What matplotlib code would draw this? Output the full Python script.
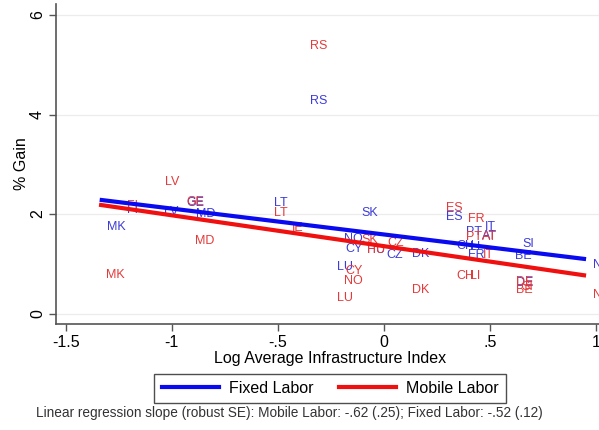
"""Scatter of % gain vs log average infrastructure index, fixed vs mobile labor."""

import numpy as np
import matplotlib
matplotlib.use("Agg")
import matplotlib.pyplot as plt
from matplotlib.lines import Line2D

plt.rcParams["font.family"] = ["Liberation Sans", "DejaVu Sans"]

# Fixed labor (blue labels)
fixed_codes = ["RS", "LT", "FI", "LV", "GE", "MD", "MK", "SK", "ES", "IT", "PT", "AT",
               "NO", "CY", "HU", "CZ", "DK", "CH", "LI", "FR", "SI", "BE", "DE", "LU", "NL"]
fixed_x = [-0.381, -0.549, -1.245, -1.069, -0.962, -0.918, -1.340, -0.137, 0.261, 0.445,
           0.355, 0.430, -0.220, -0.215, -0.110, -0.019, 0.099, 0.308, 0.374, 0.364,
           0.623, 0.585, 0.591, -0.255, 0.954]
fixed_y = [4.27, 2.22, 2.09, 2.05, 2.22, 2.01, 1.74, 2.02, 1.95, 1.73,
           1.63, 1.56, 1.50, 1.30, 1.27, 1.18, 1.20, 1.35, 1.34, 1.18,
           1.40, 1.15, 0.61, 0.93, 0.98]

# Mobile labor (red labels)
mobile_codes = ["RS", "LV", "FI", "GE", "LT", "MD", "MK", "IE", "ES", "FR", "PT", "AT",
                "SK", "CZ", "HU", "CY", "NO", "LU", "DK", "CH", "LI", "IT", "DE", "SI",
                "BE", "NL"]
mobile_x = [-0.381, -1.065, -1.245, -0.962, -0.549, -0.923, -1.343, -0.467, 0.261, 0.364,
            0.355, 0.430, -0.137, -0.016, -0.110, -0.215, -0.220, -0.255, 0.099, 0.311,
            0.374, 0.434, 0.591, 0.615, 0.591, 0.954]
mobile_y = [5.37, 2.64, 2.17, 2.24, 2.02, 1.45, 0.78, 1.72, 2.13, 1.91,
            1.53, 1.53, 1.47, 1.42, 1.27, 0.85, 0.66, 0.32, 0.48, 0.76,
            0.76, 1.18, 0.64, 0.54, 0.48, 0.38]

# regression fits (slope from the note, intercept)
fit_slope = [-0.52, -0.62]
fit_intercept = [1.590, 1.355]

BLUE_LINE, RED_LINE = "#0a0af0", "#f01010"
BLUE_TXT, RED_TXT = "#3c3cd8", "#e33a3a"


def main():
    fig = plt.figure(figsize=(5.99, 4.30), dpi=100)
    ax = fig.add_axes([0.0935, 0.2465, 0.9065, 0.744])

    for codes, xs, ys, col in [(fixed_codes, fixed_x, fixed_y, BLUE_TXT),
                               (mobile_codes, mobile_x, mobile_y, RED_TXT)]:
        for c, x, y in zip(codes, xs, ys):
            ax.annotate(c, (x, y), xytext=(7, 0), textcoords="offset pixels",
                        ha="left", va="center", fontsize=9, color=col,
                        annotation_clip=False, clip_on=False)

    series = [(fixed_x, BLUE_LINE), (mobile_x, RED_LINE)]
    for i, (xs, col) in enumerate(series):
        xx = np.array([min(xs), max(xs)])
        ax.plot(xx, fit_intercept[i] + fit_slope[i] * xx, color=col, lw=3.0,
                solid_capstyle="butt", zorder=3)

    ax.set_xlim(-1.546, 1.015)
    ax.set_ylim(-0.21, 6.22)
    ax.set_xticks([-1.5, -1, -0.5, 0, 0.5, 1])
    ax.set_xticklabels(["-1.5", "-1", "-.5", "0", ".5", "1"])
    ax.set_yticks([0, 2, 4, 6])
    ax.set_yticklabels(["0", "2", "4", "6"], rotation=90, va="center")
    ax.tick_params(direction="out", length=5, width=1, color="#555555",
                   labelsize=11.5, pad=3)
    ax.grid(axis="y", color="#ececec", lw=0.9)
    ax.set_axisbelow(True)
    for s in ["top", "right"]:
        ax.spines[s].set_visible(False)
    for s in ["left", "bottom"]:
        ax.spines[s].set_color("#555555")
        ax.spines[s].set_linewidth(1.2)

    ax.set_xlabel("Log Average Infrastructure Index", fontsize=11.5, labelpad=0)
    ax.xaxis.set_label_coords(0.505, -0.085)
    ax.set_ylabel("% Gain", fontsize=11.5, labelpad=1)

    handles = [Line2D([], [], color=BLUE_LINE, lw=3), Line2D([], [], color=RED_LINE, lw=3)]
    leg = fig.legend(handles, ["Fixed Labor", "Mobile Labor"], loc="center",
                     bbox_to_anchor=(330 / 599, 1 - 388.5 / 430), ncol=2, fontsize=11.5,
                     handlelength=3.6, handletextpad=0.6, columnspacing=1.6,
                     frameon=True, fancybox=False, borderpad=0.45)
    leg.get_frame().set_edgecolor("#222222")
    leg.get_frame().set_linewidth(1.0)

    fig.text(0.4825, 1 - 413 / 430,
             "Linear regression slope (robust SE): Mobile Labor: -.62 (.25); "
             "Fixed Labor: -.52 (.12)", ha="center", va="center", fontsize=9.8,
             color="#333333")

    fig.savefig("out.png", dpi=100, facecolor="white")
    plt.close(fig)


if __name__ == "__main__":
    main()
